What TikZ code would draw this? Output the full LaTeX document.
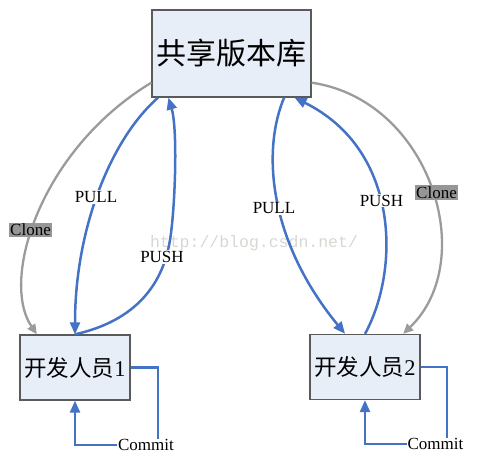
\documentclass[tikz,border=0pt]{standalone}
\usepackage{fontspec}
\setmainfont{Liberation Serif}
\newfontfamily\cjk{Noto Sans CJK SC}
\newfontfamily\wmfont{Liberation Mono}
\usetikzlibrary{arrows.meta,calc}
\definecolor{boxfill}{RGB}{232,238,248}
\definecolor{boxline}{RGB}{90,90,90}
\definecolor{lineblue}{RGB}{68,114,196}
\definecolor{linegray}{RGB}{155,155,155}
\definecolor{clonefill}{RGB}{150,150,150}
\definecolor{wmgray}{RGB}{215,215,210}
\begin{document}
\begin{tikzpicture}[x=1pt,y=-1pt,
  boxnode/.style={draw=boxline, line width=1.3pt, fill=boxfill, inner sep=0pt},
  devbox/.style={boxnode, minimum width=110pt, minimum height=65pt, font=\fontsize{22.5}{24}\selectfont},
  bluepath/.style={draw=lineblue, line width=2.5pt},
  bluearrow/.style={bluepath, -{Triangle[length=12pt,width=10pt]}},
  grayarrow/.style={draw=linegray, line width=2.3pt, -{Triangle[length=10pt,width=9pt]}},
  lbl/.style={fill=white, inner sep=1pt, font=\fontsize{17}{17}\selectfont},
  clonelbl/.style={fill=clonefill, inner sep=1.5pt, font=\fontsize{17}{17}\selectfont},
  commitlbl/.style={inner sep=0.5pt, font=\fontsize{17}{17}\selectfont}
]
\useasboundingbox (0,0) rectangle (491,465);
\node[text=wmgray, font=\wmfont\fontsize{16.5}{16.5}\selectfont] (wm) at (254,243) {http://blog.csdn.net/};

\node[boxnode, minimum width=159pt, minimum height=87pt, font=\cjk\fontsize{30}{32}\selectfont] (repo) at (231.5,53.5) {共享版本库};
\node[devbox] (dev1) at (75,367.5) {{\cjk 开发人员}1};
\node[devbox] (dev2) at (365,367) {{\cjk 开发人员}2};

\node[commitlbl] (commit1) at (146,445) {Commit};
\node[commitlbl] (commit2) at (435.5,444) {Commit};

% Clone connectors
\draw[grayarrow] (repo.200) .. controls (40,150) and (0,280) .. (dev1.139);
\draw[grayarrow] (repo.-20) .. controls (430,100) and (480,260) .. (dev2.41);

% PULL / PUSH left
\draw[bluearrow] (repo.211) .. controls (110,140) and (75,230) .. (dev1.north);
\draw[bluearrow] (dev1.north) .. controls (130,322) and (162,290) .. (170,240)
  .. controls (175,210) and (178,130) .. (repo.215);

% PULL / PUSH right
\draw[bluearrow] (repo.-40) .. controls (262,150) and (268,240) .. (dev2.121);
\draw[bluearrow] (dev2.north) .. controls (400,270) and (400,150) .. (repo.-35);

% Commit loops
\draw[bluepath] (dev1.east) -| ($(commit1.north)+(12,0)$);
\draw[bluearrow] (commit1.west) -| (dev1.south);
\draw[bluepath] (dev2.east) -| ($(commit2.north)+(11.5,0)$);
\draw[bluearrow] (commit2.west) -| (dev2.south);

% labels
\node[clonelbl] (clone1) at (30.5,230) {Clone};
\node[clonelbl] (clone2) at (436.5,192.5) {Clone};
\node[lbl] (pull1) at (96,197) {PULL};
\node[lbl] (push1) at (162,257) {PUSH};
\node[lbl] (pull2) at (274,208.5) {PULL};
\node[lbl] (push2) at (381.5,200.5) {PUSH};
\end{tikzpicture}
\end{document}
